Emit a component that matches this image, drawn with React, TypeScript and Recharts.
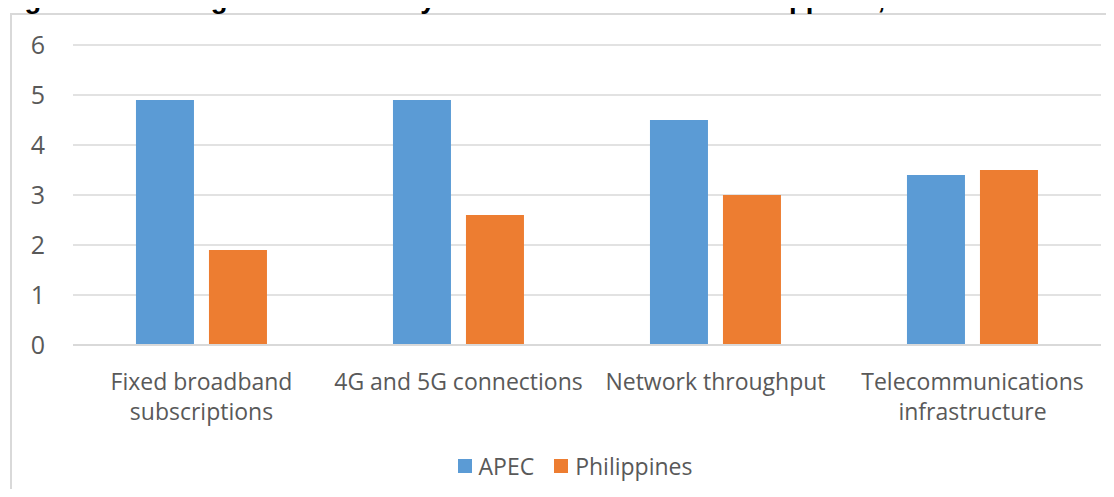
import { Bar, BarChart, CartesianGrid, Legend, XAxis, YAxis } from 'recharts';

const categories = ['Fixed broadband subscriptions', '4G and 5G connections', 'Network throughput', 'Telecommunications infrastructure'];
// tick labels as Excel wraps them
const categoryLines: Record<string, string[]> = {
  'Fixed broadband subscriptions': ['Fixed broadband', 'subscriptions'],
  '4G and 5G connections': ['4G and 5G connections'],
  'Network throughput': ['Network throughput'],
  'Telecommunications infrastructure': ['Telecommunications', 'infrastructure'],
};
const apecValues = [4.9, 4.9, 4.5, 3.4];
const philippinesValues = [1.9, 2.6, 3.0, 3.5];
const yTicks = [0, 1, 2, 3, 4, 5, 6];

const FONT = '"Open Sans", sans-serif';
const TEXT_COLOR = '#595959';

const data = categories.map((name, i) => ({
  name,
  APEC: apecValues[i],
  Philippines: philippinesValues[i],
}));

function CategoryTick({ x, y, payload }: any) {
  const lines = categoryLines[payload.value] || [payload.value];
  return (
    <text x={x} y={y} textAnchor="middle" fontSize={23} fontFamily={FONT} fill={TEXT_COLOR}>
      {lines.map((line, i) => (
        <tspan key={i} x={x} y={y + 37 + i * 30}>
          {line}
        </tspan>
      ))}
    </text>
  );
}

function LegendContent({ payload }: any) {
  return (
    <div style={{ display: 'flex', justifyContent: 'center', fontFamily: FONT, fontSize: 23, color: TEXT_COLOR, paddingLeft: 36 }}>
      {(payload || []).map((entry: any) => (
        <div key={entry.value} style={{ display: 'flex', alignItems: 'center', margin: '0 10px' }}>
          <span style={{ width: 14, height: 14, background: entry.color, display: 'inline-block', marginRight: 7 }} />
          <span>{entry.value}</span>
        </div>
      ))}
    </div>
  );
}

export default function App() {
  return (
    <div style={{ position: 'relative', width: 1114, height: 497, margin: -8, overflow: 'hidden', background: '#fff' }}>
      <div
        style={{
          position: 'absolute',
          left: 10,
          top: 13,
          width: 1200,
          height: 600,
          border: '2px solid #d9d9d9',
        }}
      />
      {/* title is cut off at the top in the source image */}
      <div
        style={{
          position: 'absolute',
          left: 0,
          top: -16,
          fontFamily: '"Liberation Sans", Arial, sans-serif',
          fontWeight: 'bold',
          fontSize: 27.5,
          lineHeight: '30px',
          whiteSpace: 'nowrap',
          color: '#000',
        }}
      >
        Figure 3: DFE digital connectivity indicators: APEC and Philippines, 2022
      </div>
      <div style={{ position: 'absolute', left: 0, top: 0 }}>
        <BarChart
          width={1114}
          height={497}
          data={data}
          margin={{ top: 45, right: 13, bottom: 92, left: 0 }}
          barCategoryGap="24.5%"
          barGap={15}
        >
          <CartesianGrid vertical={false} stroke="#d9d9d9" strokeWidth={1.5} />
          <XAxis
            dataKey="name"
            height={60}
            axisLine={{ stroke: '#d9d9d9', strokeWidth: 2 }}
            tickLine={false}
            tick={<CategoryTick />}
            interval={0}
          />
          <YAxis
            width={73}
            domain={[0, 6]}
            ticks={yTicks}
            axisLine={false}
            tickLine={false}
            tickMargin={22}
            tick={{ fontSize: 25, fontFamily: FONT, fill: TEXT_COLOR }}
          />
          <Legend
            layout="horizontal"
            verticalAlign="middle"
            align="center"
            wrapperStyle={{ top: 450, left: 0, width: 1114 }}
            content={<LegendContent />}
          />
          <Bar dataKey="APEC" fill="#5b9bd5" isAnimationActive={false} />
          <Bar dataKey="Philippines" fill="#ed7d31" isAnimationActive={false} />
        </BarChart>
      </div>
    </div>
  );
}
